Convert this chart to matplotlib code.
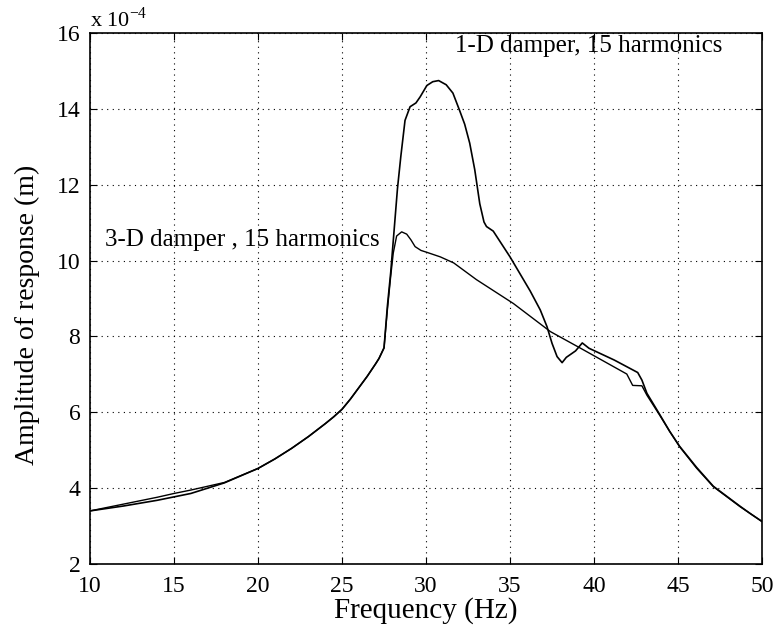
import matplotlib
matplotlib.use("Agg")
import matplotlib.pyplot as plt

# amplitude values in units of 1e-4 m
freq_1d = [10, 12, 14, 16, 18, 20, 21, 22, 23, 24, 24.5, 25, 25.5, 26, 26.5, 27, 27.2,
           27.5, 27.7, 27.9, 28.1, 28.3, 28.5, 28.75, 29.05, 29.4, 29.65, 30.05, 30.4,
           30.75, 31.2, 31.6, 32.0, 32.3, 32.6, 32.9, 33.2, 33.45, 33.6, 34.0, 35.0, 36.2,
           36.8, 37.2, 37.5, 37.8, 38.1, 38.35, 38.9, 39.3, 39.7, 41.2, 42.6, 42.85, 43.15,
           43.9, 44.5, 45.1, 46.1, 47.1, 48.7, 49.3, 50]
amp_1d = [3.40, 3.53, 3.68, 3.86, 4.14, 4.52, 4.77, 5.05, 5.36, 5.7, 5.88, 6.08, 6.35,
          6.65, 6.95, 7.28, 7.42, 7.7, 8.8, 9.7, 10.8, 11.9, 12.75, 13.7, 14.06, 14.16,
          14.32, 14.62, 14.72, 14.75, 14.64, 14.42, 13.96, 13.6, 13.1, 12.4, 11.5, 11.02,
          10.9, 10.78, 10.1, 9.2, 8.7, 8.26, 7.82, 7.47, 7.31, 7.45, 7.62, 7.83, 7.69,
          7.38, 7.05, 6.85, 6.5, 5.95, 5.5, 5.1, 4.55, 4.05, 3.52, 3.33, 3.12]

freq_3d = [10, 12, 14, 15, 16, 18, 20, 21, 22, 23, 24, 24.5, 25, 25.5, 26, 26.5, 27,
           27.2, 27.5, 27.7, 27.9, 28.05, 28.25, 28.55, 28.85, 29.1, 29.35, 29.7, 30.05,
           30.85, 31.65, 33.0, 35.2, 37.4, 39.2, 41.95, 42.3, 42.85, 43.15, 43.9, 44.5,
           45.1, 46.1, 47.1, 48.7, 49.3, 50]
amp_3d = [3.40, 3.58, 3.76, 3.86, 3.95, 4.15, 4.52, 4.77, 5.05, 5.36, 5.7, 5.88, 6.08,
          6.35, 6.65, 6.95, 7.28, 7.42, 7.7, 8.7, 9.6, 10.2, 10.65, 10.76, 10.70, 10.55,
          10.37, 10.27, 10.22, 10.10, 9.94, 9.5, 8.87, 8.13, 7.69, 7.01, 6.71, 6.70, 6.45,
          5.93, 5.5, 5.09, 4.53, 4.04, 3.51, 3.33, 3.12]

plt.rcParams['font.family'] = ['Liberation Serif', 'DejaVu Serif']
plt.rcParams['mathtext.fontset'] = 'custom'
plt.rcParams['mathtext.rm'] = 'Liberation Serif'

fig = plt.figure(figsize=(7.76, 6.38), dpi=100)
ax = fig.add_axes([0.116, 0.116, 0.866, 0.832])

ax.plot(freq_1d, amp_1d, color='black', lw=1.2)
ax.plot(freq_3d, amp_3d, color='black', lw=1.0)

ax.set_xlim(10, 50)
ax.set_ylim(2, 16)
ax.set_xticks(range(10, 51, 5))
ax.set_yticks(range(2, 17, 2))
ax.grid(True, color='black', linestyle=(0, (1, 4)), linewidth=0.8)
ax.tick_params(direction='in', top=True, right=True, labelsize=17, length=5)
ax.tick_params(axis='x', pad=9)
ax.tick_params(axis='y', pad=7)
for s in ax.spines.values():
    s.set_linewidth(1.2)

ax.set_xlabel('Frequency (Hz)', fontsize=21, labelpad=0)
ax.set_ylabel('Amplitude of response (m)', fontsize=20)
ax.yaxis.set_label_coords(-0.075, 0.47)

ax.text(31.7, 15.66, '1-D damper, 15 harmonics', fontsize=18, va='center')
ax.text(10.9, 10.54, '3-D damper , 15 harmonics', fontsize=18, va='center')
ax.text(0.0, 1.003, 'x 10$^{-4}$', transform=ax.transAxes, fontsize=16, va='bottom')

fig.savefig('out.png', dpi=100)
